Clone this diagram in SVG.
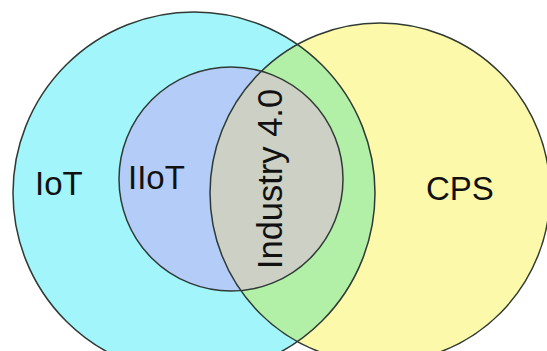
<svg xmlns="http://www.w3.org/2000/svg" width="547" height="351" viewBox="0 0 547 351">
<style>
.ring{fill:none;stroke:#2f3a34;stroke-width:1.5}
.lbl{font-family:"Liberation Sans",Arial,sans-serif;fill:#111;font-size:33px}
</style>
<defs>
<clipPath id="cIoT"><circle cx="194" cy="193" r="181"/></clipPath>
<clipPath id="cCPS"><circle cx="380" cy="193" r="170"/></clipPath>
</defs>
<rect width="547" height="351" fill="#ffffff"/>
<g id="iot">
<circle cx="194" cy="193" r="181" fill="#a2f6fb"/>
</g>
<g id="cps">
<circle cx="380" cy="193" r="170" fill="#fdf9aa"/>
<circle cx="380" cy="193" r="170" fill="#b2f0a8" clip-path="url(#cIoT)"/>
</g>
<g id="iiot">
<circle cx="231" cy="179" r="112" fill="#b4cdf8"/>
<circle cx="231" cy="179" r="112" fill="#cdd0c5" clip-path="url(#cCPS)"/>
</g>
<g id="outlines">
<circle class="ring" cx="194" cy="193" r="181"/>
<circle class="ring" cx="380" cy="193" r="170"/>
<circle class="ring" cx="231" cy="179" r="112"/>
</g>
<g id="labels">
<text class="lbl" x="35" y="195">IoT</text>
<text class="lbl" x="128" y="189">IIoT</text>
<text class="lbl" x="426" y="200">CPS</text>
<text class="lbl" transform="translate(282,179) rotate(-90)" text-anchor="middle" style="font-size:34.5px">Industry 4.0</text>
</g>
</svg>
